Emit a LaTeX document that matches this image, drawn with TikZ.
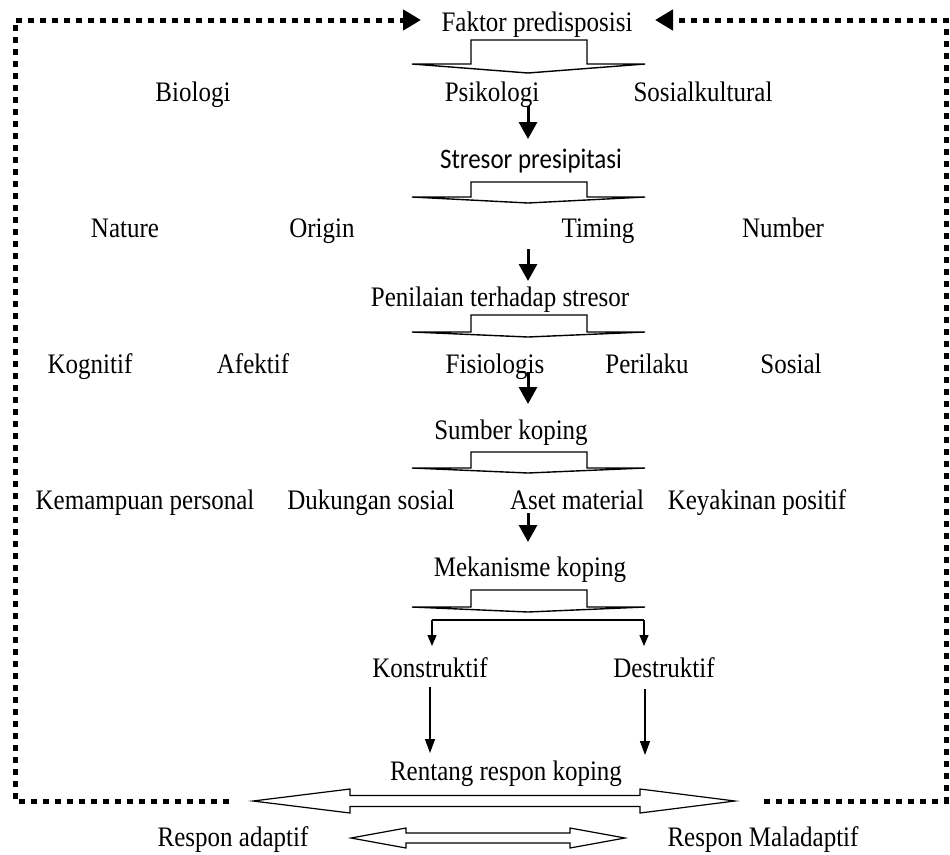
\documentclass[tikz,border=0pt]{standalone}
\usepackage{fontspec}
\setmainfont{Liberation Serif}
\newfontfamily\calib{Carlito}
\usetikzlibrary{arrows.meta}
\newcommand\tall[1]{\scalebox{1}[1.13]{#1}}
\begin{document}
\begin{tikzpicture}[x=1pt,y=-1pt,
  lbl/.style={inner sep=0pt,anchor=base,font=\fontsize{25}{30}\selectfont},
  frame/.style={line width=5pt,dash pattern=on 6pt off 6pt},
  fhead/.style={-{Triangle[length=18pt,width=20pt]}},
  bigdown/.style={line width=3pt,-{Triangle[length=17pt,width=18pt]}},
  thindown/.style={line width=1.3pt,-{Triangle[length=14pt,width=10pt]}},
  smalldown/.style={line width=1.2pt,-{Triangle[length=11pt,width=9pt]}},
  blockarrow/.style={line width=1.4pt,fill=white,line join=miter},
  dblarrow/.style={line width=1.2pt,fill=white}]
\useasboundingbox (0,0) rectangle (950,854);
% texts
\node[lbl] (fak) at (537,31) {\tall{Faktor predisposisi}};
\node[lbl] (bio) at (193,101) {\tall{Biologi}};
\node[lbl] (psi) at (492,101) {\tall{Psikologi}};
\node[lbl] (sos) at (703,101) {\tall{Sosialkultural}};
\node[lbl,font=\calib\fontsize{25}{30}\selectfont] (str) at (531,168) {\tall{Stresor presipitasi}};
\node[lbl] (nat) at (125,237) {\tall{Nature}};
\node[lbl] (ori) at (322,237) {\tall{Origin}};
\node[lbl] (tim) at (598,237) {\tall{Timing}};
\node[lbl] (num) at (783,237) {\tall{Number}};
\node[lbl] (pen) at (500,306) {\tall{Penilaian terhadap stresor}};
\node[lbl] (kog) at (90,373) {\tall{Kognitif}};
\node[lbl] (afe) at (253,373) {\tall{Afektif}};
\node[lbl] (fis) at (495,373) {\tall{Fisiologis}};
\node[lbl] (per) at (647,373) {\tall{Perilaku}};
\node[lbl] (sosi) at (791,373) {\tall{Sosial}};
\node[lbl] (sum) at (511,439) {\tall{Sumber koping}};
\node[lbl] (kem) at (145,509) {\tall{Kemampuan personal}};
\node[lbl] (duk) at (371,509) {\tall{Dukungan sosial}};
\node[lbl] (ase) at (577,509) {\tall{Aset material}};
\node[lbl] (key) at (757,509) {\tall{Keyakinan positif}};
\node[lbl] (mek) at (530,576) {\tall{Mekanisme koping}};
\node[lbl] (kon) at (430,677) {\tall{Konstruktif}};
\node[lbl] (des) at (664,677) {\tall{Destruktif}};
\node[lbl] (ren) at (506,780) {\tall{Rentang respon koping}};
\node[lbl] (rad) at (233,846) {\tall{Respon adaptif}};
\node[lbl] (rmal) at (763,846) {\tall{Respon Maladaptif}};
% block arrows
\foreach \t/\b/\p in {40/64/73, 182/197/203, 315/332/337, 452/468/473, 590/607/612}{
  \draw[blockarrow] (471,\t) -- (587,\t) -- (587,\b) -- (645,\b) -- (528,\p) -- (412,\b) -- (471,\b) -- cycle;
}
% small solid down arrows
\coordinate (a1s) at (528,106); \coordinate (a1e) at (528,139);
\coordinate (a2s) at (528,249); \coordinate (a2e) at (528,281);
\coordinate (a3s) at (528,372); \coordinate (a3e) at (528,404);
\coordinate (a4s) at (528,513); \coordinate (a4e) at (528,542);
\draw[bigdown] (a1s) -- (a1e);
\draw[bigdown] (a2s) -- (a2e);
\draw[bigdown] (a3s) -- (a3e);
\draw[bigdown] (a4s) -- (a4e);
% split
\coordinate (spl) at (432,620); \coordinate (spr) at (644,620);
\draw[line width=1.3pt] (spl) -- (spr);
\draw[smalldown] (spl) -- (432,646);
\draw[smalldown] (spr) -- (644,646);
\draw[thindown] (430,687) -- (430,753);
\draw[thindown] (645,689) -- (645,755);
% double arrows
\draw[dblarrow] (253,801) -- (350,789) -- (350,795.5) -- (640,795.5) -- (640,789) -- (735,801) -- (640,813) -- (640,806.5) -- (350,806.5) -- (350,813) -- cycle;
\draw[dblarrow] (351,838) -- (406,828) -- (406,833) -- (570,833) -- (570,828) -- (625,838) -- (570,848) -- (570,843) -- (406,843) -- (406,848) -- cycle;
% dotted frame
\draw[frame,fhead] (229,801) -- (15,801) -- (15,20) -- (421,20);
\draw[frame,fhead] (764,801) -- (946,801) -- (946,20) -- (655,20);
\end{tikzpicture}
\end{document}
